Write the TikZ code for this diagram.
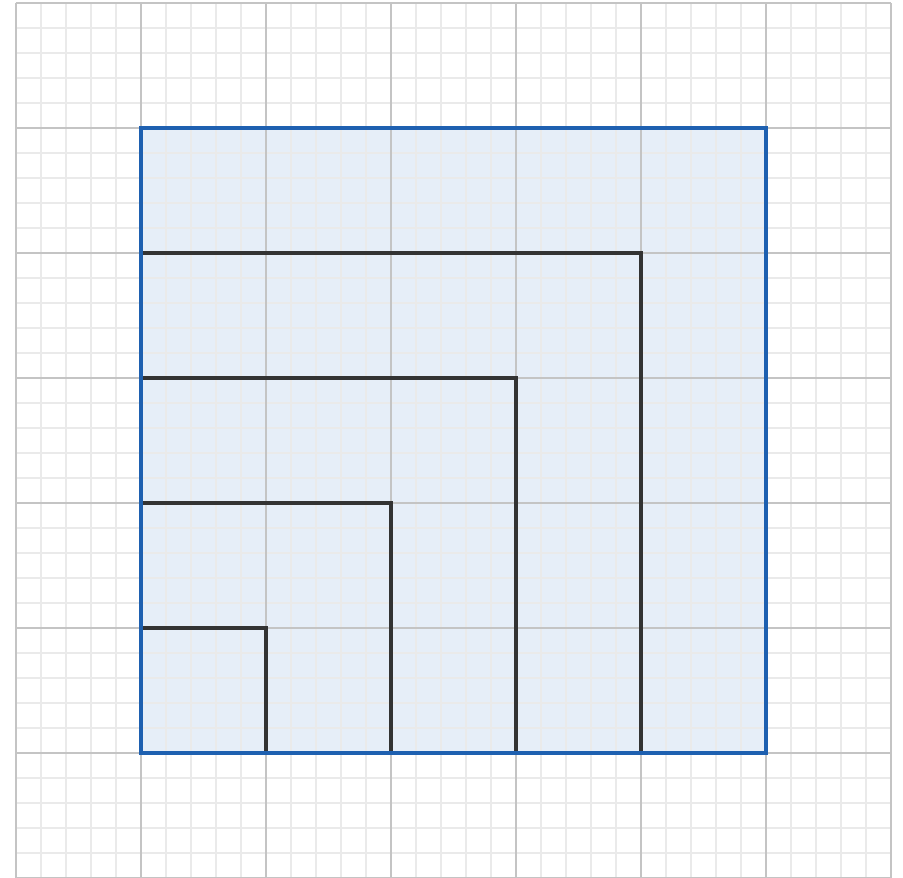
\documentclass[tikz,border=0pt]{standalone}
\usepackage{tikz}
\definecolor{bluefill}{HTML}{E6EEF8}
\definecolor{blueline}{HTML}{1E60B0}
\definecolor{minorgrid}{HTML}{EAEAEA}
\definecolor{majorgrid}{HTML}{C4C4C4}
\definecolor{lshape}{HTML}{333333}
\tikzset{
  minorline/.style={draw=minorgrid, line width=0.3pt},
  majorline/.style={draw=majorgrid, line width=0.4pt},
  outer/.style={draw=blueline, line width=1.05pt},
  ell/.style={draw=lshape, line width=0.75pt, line join=miter}
}
\begin{document}
\begin{tikzpicture}
\useasboundingbox (-1.128,-0.992) rectangle (6.096,6.024);
\fill[white] (-1.128,-0.992) rectangle (6.096,6.024);
\fill[bluefill] (0,0) rectangle (5,5);
\draw[minorline, step=0.2] (-1,-1) grid (6,6);
\draw[majorline, step=1] (-1,-1) grid (6,6);
\coordinate (o) at (0,0);
\draw[ell] (0,4) -- (4,4) -- (4,0);
\draw[ell] (0,3) -- (3,3) -- (3,0);
\draw[ell] (0,2) -- (2,2) -- (2,0);
\draw[ell] (0,1) -- (1,1) -- (1,0);
\draw[outer] (o) rectangle (5,5);
\end{tikzpicture}
\end{document}
